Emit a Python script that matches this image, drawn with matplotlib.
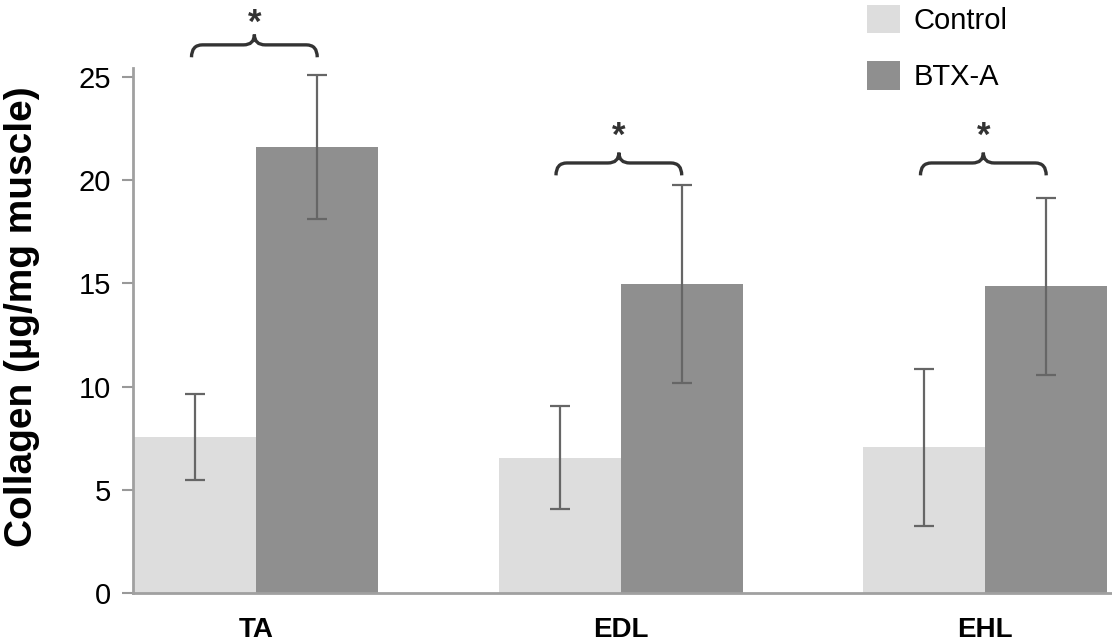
import matplotlib
matplotlib.use("Agg")
import matplotlib.pyplot as plt
from matplotlib.path import Path
from matplotlib.patches import PathPatch, Patch
import numpy as np

plt.rcParams['font.family'] = ['Liberation Sans', 'DejaVu Sans']

categories = ["TA", "EDL", "EHL"]
control_vals = [7.55, 6.55, 7.05]
control_err = [2.1, 2.5, 3.8]
btx_vals = [21.6, 14.95, 14.85]
btx_err = [3.5, 4.8, 4.3]
yticks = [0, 5, 10, 15, 20, 25]
sig_marks = ["*", "*", "*"]

W, H = 1112, 643
fig = plt.figure(figsize=(W / 100, H / 100), dpi=100)
ax = fig.add_axes([133 / W, (H - 593) / H, (W - 133) / W, (593 - 68) / H])

x = np.arange(len(categories))
bw = 0.335
c_ctrl = "#dddddd"
c_btx = "#8f8f8f"
ecol = "#666666"

ax.bar(x - bw / 2, control_vals, bw, color=c_ctrl, label="Control", zorder=2)
ax.bar(x + bw / 2, btx_vals, bw, color=c_btx, label="BTX-A", zorder=2)
ax.errorbar(x - bw / 2, control_vals, yerr=control_err, fmt="none", ecolor=ecol,
            elinewidth=1.6, capsize=7, capthick=1.6, zorder=3)
ax.errorbar(x + bw / 2, btx_vals, yerr=btx_err, fmt="none", ecolor=ecol,
            elinewidth=1.6, capsize=7, capthick=1.6, zorder=3)

ax.set_xlim(-bw - 0.003, 2.348)
ax.set_ylim(0, 25.43)
ax.set_yticks(yticks)
ax.set_yticklabels([str(t) for t in yticks], fontsize=21)
ax.set_xticks(x)
ax.set_xticklabels(categories, fontsize=20, fontweight="bold")
ax.tick_params(axis="x", length=0, pad=17.5)
ax.tick_params(axis="y", length=8, width=1.5, color="#999999", pad=8)
for s in ["top", "right"]:
    ax.spines[s].set_visible(False)
for s in ["left", "bottom"]:
    ax.spines[s].set_color("#a0a0a0")
    ax.spines[s].set_linewidth(2)

fig.text(22 / W, 1 - 317 / H, "Collagen (µg/mg muscle)", rotation=90,
         ha="center", va="center", fontsize=28, fontweight="bold")


def brace(ax, x0, x1, y, drop, rise):
    xc = (x0 + x1) / 2
    r = 0.03
    verts = [
        (x0, y - drop), (x0, y), (x0 + r, y),
        (xc - r, y),
        (xc, y), (xc, y + rise),
        (xc, y), (xc + r, y),
        (x1 - r, y),
        (x1, y), (x1, y - drop),
    ]
    codes = [Path.MOVETO, Path.CURVE3, Path.CURVE3,
             Path.LINETO,
             Path.CURVE3, Path.CURVE3,
             Path.CURVE3, Path.CURVE3,
             Path.LINETO,
             Path.CURVE3, Path.CURVE3]
    p = PathPatch(Path(verts, codes), fill=False, edgecolor="#333333",
                  linewidth=2.4, clip_on=False, zorder=4)
    ax.add_patch(p)


brace_y = [26.55, 20.83, 20.83]
star_y = [27.12, 21.68, 21.68]
for i, xi in enumerate(x):
    x0 = xi - bw / 2 - 0.01
    x1 = xi + bw / 2 + 0.0
    brace(ax, x0, x1, brace_y[i], 0.6, 0.5)
    ax.text((x0 + x1) / 2, star_y[i], sig_marks[i], ha="center", va="baseline",
            fontsize=25, fontweight="bold", color="#333333", clip_on=False)

handles = [Patch(facecolor=c_ctrl, edgecolor="none"), Patch(facecolor=c_btx, edgecolor="none")]
fig.legend(handles, ["Control", "BTX-A"], loc="upper left",
           bbox_to_anchor=(867 / W, 1 - 5 / H), bbox_transform=fig.transFigure,
           frameon=False, fontsize=21, handlelength=1.12, handleheight=1.12,
           handletextpad=0.48, labelspacing=0.9, borderpad=0, borderaxespad=0)

fig.savefig("out.png", dpi=100)
